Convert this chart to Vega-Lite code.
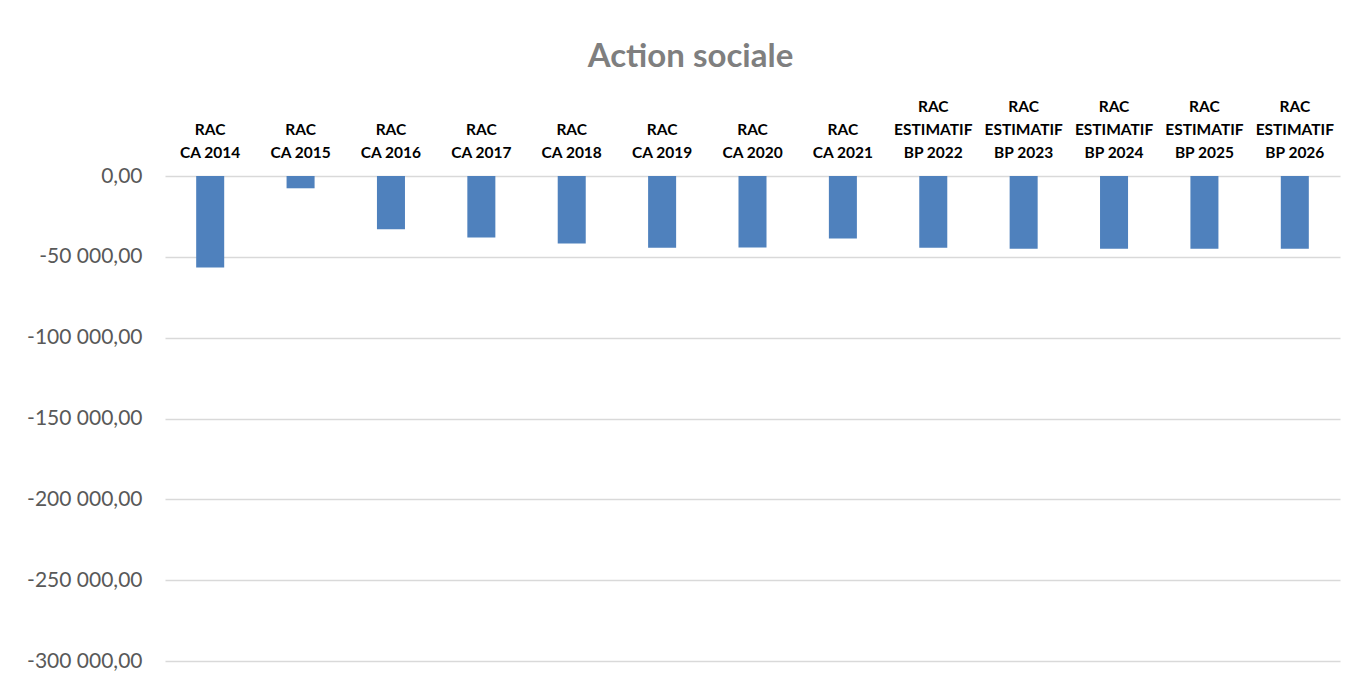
{
  "$schema": "https://vega.github.io/schema/vega-lite/v6.json",
  "width": 1175,
  "height": 485,
  "autosize": {"type": "none"},
  "padding": {"left": 165, "top": 176, "right": 18, "bottom": 23},
  "config": {
    "locale": {"number": {"decimal": ",", "thousands": " ", "grouping": [3], "currency": ["", ""], "minus": "-"}},
    "view": {"stroke": null}
  },
  "title": {"text": "Action sociale", "font": "Lato", "fontSize": 33, "fontWeight": "bold", "color": "#7f7f7f", "anchor": "middle", "dx": -62, "offset": 25},
  "data": {"values": [
    {"cat": "|RAC|CA 2014", "value": -56600},
    {"cat": "|RAC|CA 2015", "value": -7600},
    {"cat": "|RAC|CA 2016", "value": -32900},
    {"cat": "|RAC|CA 2017", "value": -38070},
    {"cat": "|RAC|CA 2018", "value": -41770},
    {"cat": "|RAC|CA 2019", "value": -44440},
    {"cat": "|RAC|CA 2020", "value": -44240},
    {"cat": "|RAC|CA 2021", "value": -38680},
    {"cat": "RAC|ESTIMATIF|BP 2022", "value": -44440},
    {"cat": "RAC|ESTIMATIF|BP 2023", "value": -45060},
    {"cat": "RAC|ESTIMATIF|BP 2024", "value": -45060},
    {"cat": "RAC|ESTIMATIF|BP 2025", "value": -45060},
    {"cat": "RAC|ESTIMATIF|BP 2026", "value": -45060}
  ]},
  "mark": {"type": "bar", "color": "#4f81bd"},
  "encoding": {
    "x": {
      "field": "cat", "type": "nominal", "sort": null,
      "scale": {"paddingInner": 0.69, "paddingOuter": 0.345},
      "axis": {
        "orient": "top", "title": null, "labelAngle": 0,
        "labelExpr": "split(datum.value, '|')",
        "labelFont": "Lato", "labelFontSize": 15.5, "labelFontWeight": "bold", "labelColor": "#000000",
        "labelLineHeight": 23, "ticks": false, "domain": false, "labelPadding": 62, "labelBaseline": "bottom"
      }
    },
    "y": {
      "field": "value", "type": "quantitative",
      "scale": {"domain": [-300000, 0], "nice": false},
      "axis": {
        "title": null, "values": [0, -50000, -100000, -150000, -200000, -250000, -300000],
        "format": ",.2f", "labelFont": "Lato", "labelFontSize": 21, "labelColor": "#595959",
        "ticks": false, "domain": false, "labelPadding": 23, "gridColor": "#d9d9d9", "gridWidth": 1.5
      }
    }
  }
}
